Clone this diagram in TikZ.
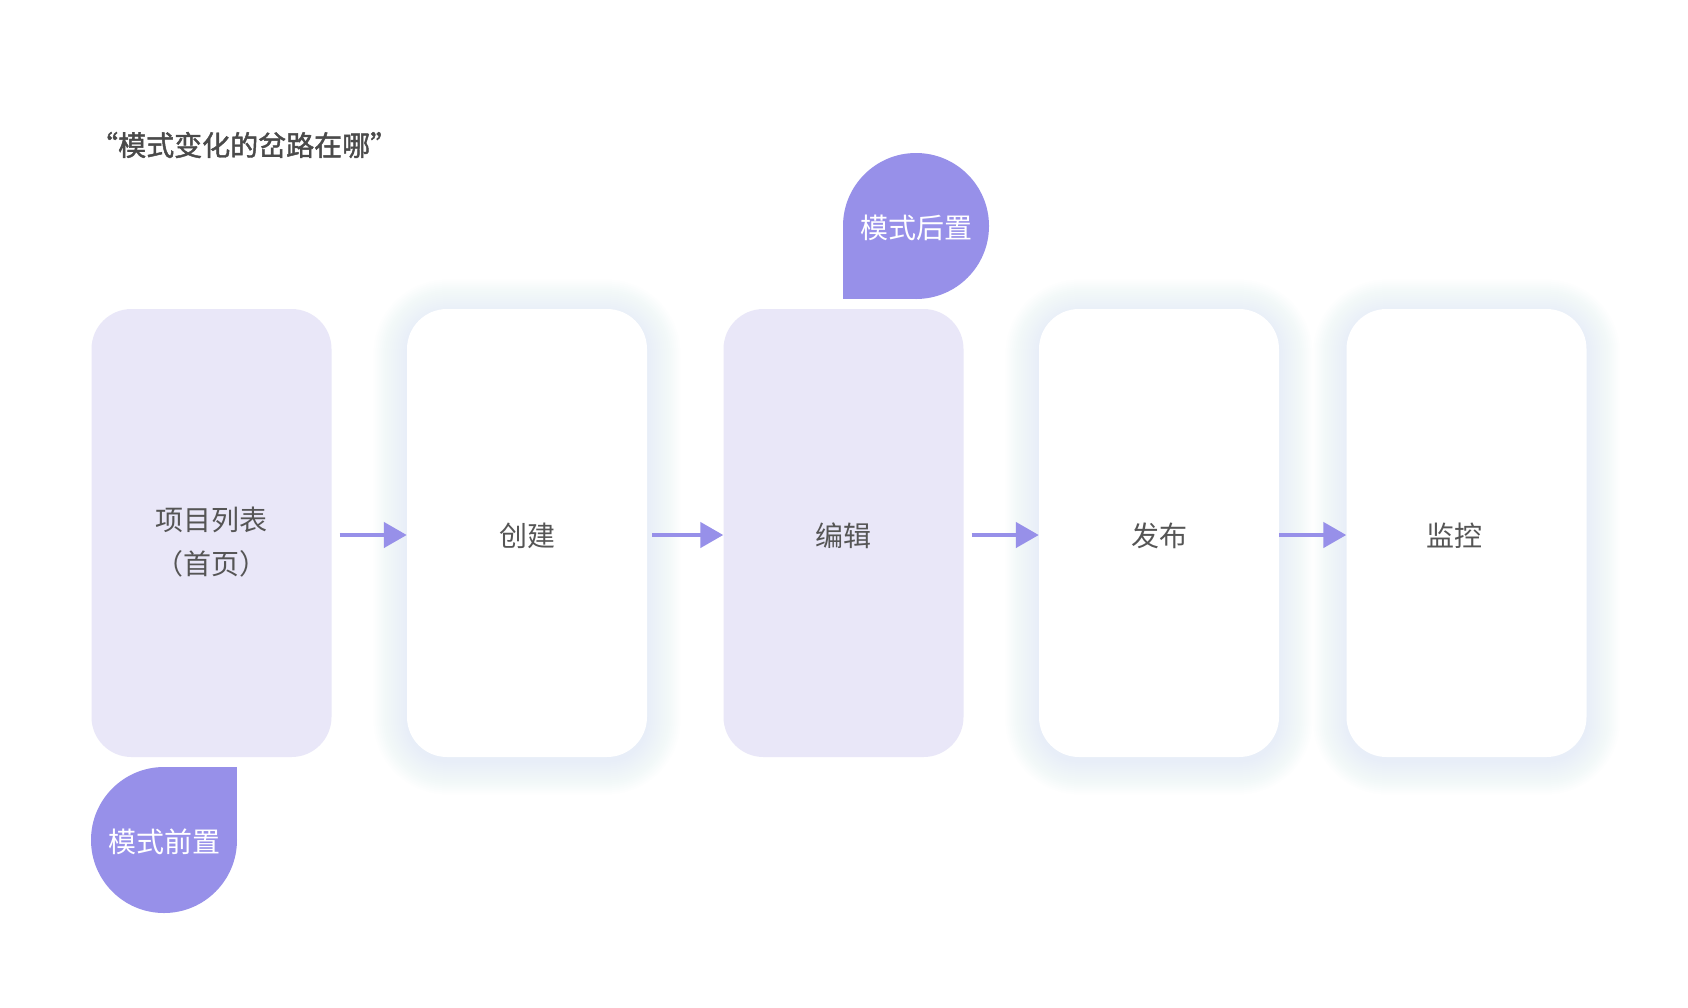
\documentclass[tikz,border=0pt]{standalone}
\usepackage{fontspec}
\setmainfont{Noto Sans CJK SC}
\newfontfamily\titlefont[FakeBold=1.6]{Noto Sans CJK SC}
\usetikzlibrary{arrows.meta,backgrounds}
\definecolor{lav}{HTML}{E9E7F8}
\definecolor{blob}{HTML}{9790E9}
\definecolor{txt}{HTML}{555555}
\definecolor{ttl}{HTML}{4A4A4A}
\definecolor{glowc}{HTML}{B4C4F8}
\tikzset{
  card/.style={rectangle, rounded corners=40pt, minimum width=240pt, minimum height=448pt, inner sep=0pt, text=txt, font=\fontsize{28}{44}\selectfont, align=center},
  cardlav/.style={card, fill=lav},
  cardwhite/.style={card, fill=white},
  lbl/.style={text=txt, font=\fontsize{28}{44}\selectfont, align=center},
  blobnode/.style={circle, fill=blob, minimum size=146pt, inner sep=0pt, text=white, font=\fontsize{28}{30}\selectfont},
  flow/.style={draw=blob, line width=4.5pt, -{Triangle[length=23pt,width=25pt]}},
}
\newcommand{\myglow}[1]{%
  \foreach \i in {1,3,...,33}{%
    \fill[glowc, opacity=0.016, rounded corners={40pt+\i pt}]
      ([xshift=-\i pt, yshift={-\i pt-4pt}]#1.south west) rectangle ([xshift=\i pt, yshift={\i pt-4pt}]#1.north east);
  }%
}
\begin{document}
\begin{tikzpicture}[x=1pt,y=-1pt]
\useasboundingbox (0,0) rectangle (1688,1007);

\node[anchor=west, inner sep=0pt, text=ttl, font=\fontsize{28}{30}\selectfont\titlefont] (title) at (90,145) {“模式变化的岔路在哪”};

\node[cardlav]   (b1) at (211.5,533) {};
\node[cardwhite] (b2) at (527,533) {};
\node[cardlav]   (b3) at (843.5,533) {};
\node[cardwhite] (b4) at (1159,533) {};
\node[cardwhite] (b5) at (1466.5,533) {};

\node[lbl] (t1) at (211.5,542) {项目列表\\（首页）};
\node[lbl] (t2) at (527,536) {创建};
\node[lbl] (t3) at (843.5,536) {编辑};
\node[lbl] (t4) at (1159,536) {发布};
\node[lbl] (t5) at (1454,536) {监控};

\begin{scope}[on background layer]
  \fill[white] (0,0) rectangle (1688,1007);
  \myglow{b2}
  \myglow{b4}
  \myglow{b5}
\end{scope}

\fill[blob] (843,226) rectangle (916,299);
\node[blobnode] (top) at (916,226) {};
\node[text=white, font=\fontsize{28}{30}\selectfont] (toplbl) at (916,228) {模式后置};
\fill[blob] (164,767) rectangle (237,840);
\node[blobnode] (bot) at (164,840) {};
\node[text=white, font=\fontsize{28}{30}\selectfont] (botlbl) at (164,842) {模式前置};

\draw[flow] ([xshift=8pt,yshift=-2pt]b1.east) -- ([yshift=-2pt]b2.west);
\draw[flow] ([xshift=5pt,yshift=-2pt]b2.east) -- ([yshift=-2pt]b3.west);
\draw[flow] ([xshift=8pt,yshift=-2pt]b3.east) -- ([yshift=-2pt]b4.west);
\draw[flow] ([xshift=0pt,yshift=-2pt]b4.east) -- ([yshift=-2pt]b5.west);
\end{tikzpicture}
\end{document}
